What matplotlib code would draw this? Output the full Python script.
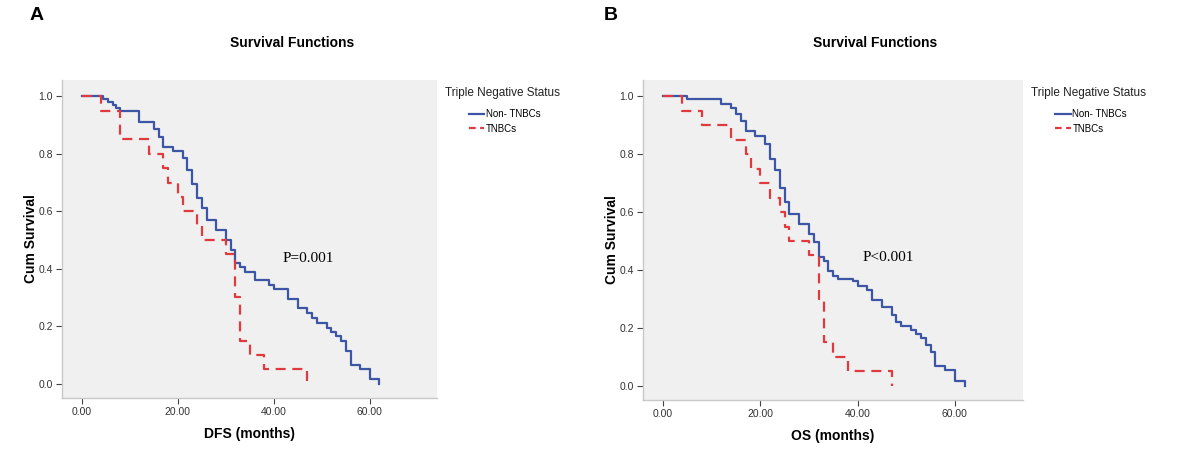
import matplotlib.pyplot as plt
from matplotlib.lines import Line2D

plt.rcParams['font.family'] = ['Liberation Sans', 'DejaVu Sans']

# Kaplan-Meier steps: event time (months) and survival after it
dfs_non_t = [0, 4.5, 5.5, 6.5, 7.2, 8, 12, 15, 16, 17, 19, 21, 22, 23, 24, 25, 26, 28, 30, 31,
             32, 33, 34, 36, 39, 40, 43, 45, 47, 48, 49, 51, 52, 53, 54, 55, 56, 58, 60, 62]
dfs_non_s = [1.0, 0.99, 0.98, 0.97, 0.96, 0.95, 0.91, 0.885, 0.86, 0.825, 0.81, 0.785, 0.745,
             0.695, 0.645, 0.61, 0.57, 0.535, 0.50, 0.465, 0.42, 0.405, 0.39, 0.36, 0.345, 0.33,
             0.295, 0.265, 0.245, 0.23, 0.21, 0.195, 0.18, 0.165, 0.15, 0.115, 0.065, 0.05,
             0.015, 0.0]
dfs_tn_t = [0, 4, 8, 14, 17, 18, 20, 21, 24, 25, 30, 32, 33, 35, 38, 47]
dfs_tn_s = [1.0, 0.95, 0.85, 0.80, 0.75, 0.70, 0.65, 0.60, 0.55, 0.50, 0.45, 0.30, 0.15, 0.10,
            0.05, 0.0]

os_non_t = [0, 5, 12, 14, 15, 16, 17, 19, 21, 22, 23, 24, 25, 26, 28, 30, 31, 32, 33, 34, 35,
            36, 39, 40, 42, 43, 45, 47, 48, 49, 51, 52, 53, 54, 55, 56, 58, 60, 62]
os_non_s = [1.0, 0.99, 0.975, 0.96, 0.94, 0.915, 0.88, 0.865, 0.835, 0.785, 0.745, 0.685, 0.635,
            0.595, 0.56, 0.525, 0.495, 0.445, 0.43, 0.395, 0.38, 0.37, 0.36, 0.345, 0.33, 0.295,
            0.27, 0.245, 0.22, 0.205, 0.193, 0.18, 0.163, 0.14, 0.117, 0.066, 0.054, 0.014, 0.0]
os_tn_t = [0, 4, 8, 14, 17, 18, 20, 22, 24, 25, 26, 30, 32, 33, 35, 38, 47]
os_tn_s = [1.0, 0.95, 0.90, 0.85, 0.80, 0.75, 0.70, 0.65, 0.60, 0.55, 0.50, 0.45, 0.30, 0.15,
           0.10, 0.05, 0.0]

panel_letters = ['A', 'B']
x_labels = ['DFS (months)', 'OS (months)']
p_texts = ['P=0.001', 'P<0.001']
p_pos = [(41.9, 0.435), (41.0, 0.443)]
group_labels = ['Non- TNBCs', 'TNBCs']
legend_title = 'Triple Negative Status'
x_ticks = [0, 20, 40, 60]
y_ticks = [0.0, 0.2, 0.4, 0.6, 0.8, 1.0]

BLUE = '#3d55a5'
RED = '#e03a3e'
BG = '#f0f0f0'
W, H = 1200, 476

# pixel boxes of the two plot areas (left, top, right, bottom)
boxes = [(62, 80, 437, 398), (643, 80, 1023, 400)]
letter_xy = [(30, 16), (604, 16)]
title_x = [292, 875]

fig = plt.figure(figsize=(W / 100, H / 100), dpi=100)

curves = [((dfs_non_t, dfs_non_s), (dfs_tn_t, dfs_tn_s)),
          ((os_non_t, os_non_s), (os_tn_t, os_tn_s))]

for i, (l, t, r, b) in enumerate(boxes):
    ax = fig.add_axes([l / W, 1 - b / H, (r - l) / W, (b - t) / H])
    ax.set_facecolor(BG)
    (nt, ns), (tt, ts) = curves[i]
    ax.step(nt, ns, where='post', color=BLUE, lw=1.6, label=group_labels[0])
    ax.step(tt, ts, where='post', color=RED, lw=1.6, ls=(0, (4.5, 3)), label=group_labels[1])

    ax.set_xlim(-4.1, 74)
    ax.set_ylim(-0.05, 1.057)
    ax.set_xticks(x_ticks)
    ax.set_xticklabels([f'{v:.2f}' for v in x_ticks])
    ax.set_yticks(y_ticks)
    ax.set_yticklabels([f'{v:.1f}' for v in y_ticks])
    ax.tick_params(direction='out', length=4.5, width=0.8, color='#444444',
                   labelsize=7.5, labelcolor='#333333', pad=2)
    for side in ['top', 'right']:
        ax.spines[side].set_visible(False)
    for side in ['left', 'bottom']:
        ax.spines[side].set_color('#c8c8c8')
        ax.spines[side].set_linewidth(1.0)

    ax.set_xlabel(x_labels[i], fontsize=10, fontweight='bold', labelpad=7)
    ax.set_ylabel('Cum Survival', fontsize=10, fontweight='bold', labelpad=0)

    px, py = p_pos[i]
    ax.text(px, py, p_texts[i], fontsize=11, family='Liberation Serif', va='center', ha='left')

    # legend
    ax.text(1.022, 0.959, legend_title, transform=ax.transAxes, fontsize=8.5,
            va='center', ha='left', color='#222222')
    handles = [Line2D([], [], color=BLUE, lw=1.6),
               Line2D([], [], color=RED, lw=1.6, ls=(0, (3, 2)))]
    ax.legend(handles, group_labels, loc='center left', bbox_to_anchor=(1.085, 0.87),
              frameon=False, fontsize=7, handlelength=1.6, handletextpad=0.15,
              labelspacing=0.45, borderpad=0, borderaxespad=0)

    fig.text(letter_xy[i][0] / W, 1 - letter_xy[i][1] / H, panel_letters[i],
             fontsize=14, fontweight='bold', va='center', ha='left')
    fig.text(title_x[i] / W, 1 - 43 / H, 'Survival Functions', fontsize=10,
             fontweight='bold', va='center', ha='center')

fig.savefig('out.png', dpi=100, facecolor='white')
